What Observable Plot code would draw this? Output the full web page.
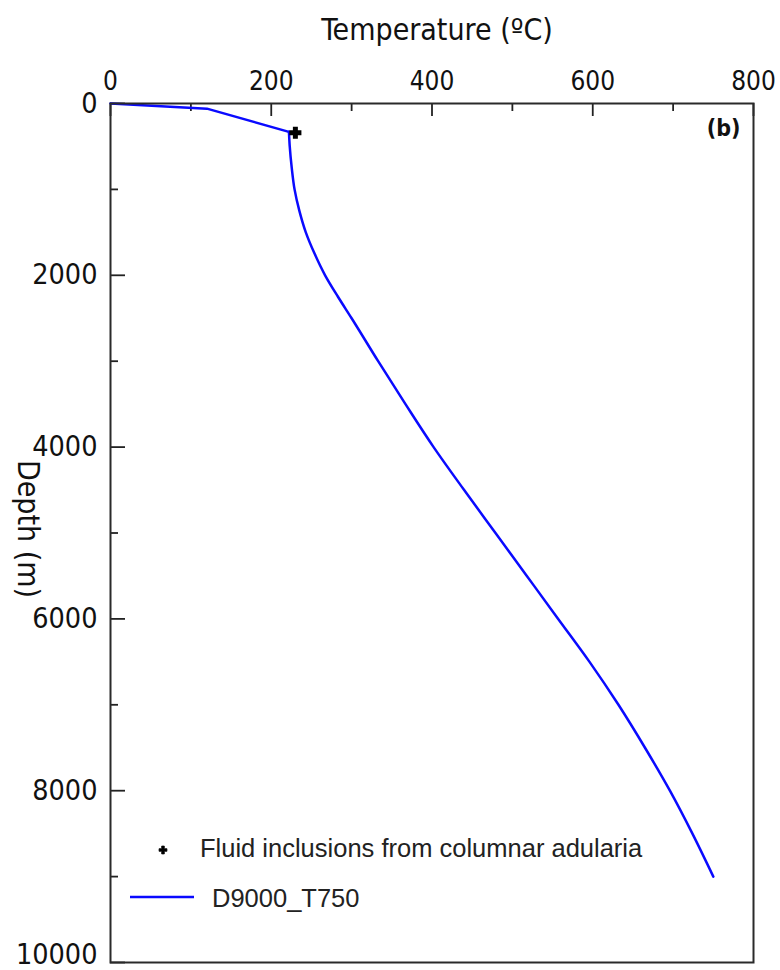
<!DOCTYPE html>
<html>
<head>
<meta charset="utf-8">
<script src="https://cdn.jsdelivr.net/npm/d3@7"></script>
<script src="https://cdn.jsdelivr.net/npm/@observablehq/plot@0.6"></script>
<style>
  html, body { margin: 0; padding: 0; background: #fff; }
  #chart svg { display: block; }
</style>
</head>
<body>
<div id="chart"></div>
<script>
// Modelled geotherm D9000_T750: temperature (°C) against depth (m)
const depth       = [0, 60, 330, 500, 750, 1000, 1250, 1500, 1750, 2000, 2250, 2500, 3000, 3500, 4000, 4500, 5000, 5500, 6000, 6500, 7000, 7500, 8000, 8500, 9000];
const temperature = [0, 120, 222, 223, 225.5, 229, 235, 243, 254, 267, 283, 300, 333, 367, 402, 440, 479, 518, 557, 596, 632, 665, 696, 724, 750];

// Fluid inclusion measurement (columnar adularia)
const inclusionDepth = [340];
const inclusionTemp  = [230];

// Axis ticks
const tempMajor  = [0, 200, 400, 600, 800];
const tempMinor  = [100, 300, 500, 700];
const depthMajor = [0, 2000, 4000, 6000, 8000, 10000];
const depthMinor = [1000, 3000, 5000, 7000, 9000];

const seriesName    = "D9000_T750";
const inclusionName = "Fluid inclusions from columnar adularia";

const W = 780, H = 970;
const mTop = 103, mBottom = 8, mLeft = 110, mRight = 27;
const frameH = H - mTop - mBottom;
const frameW = W - mLeft - mRight;

const profile = depth.map((d, i) => ({depth: d, temp: temperature[i]}));
// the near-surface part is piecewise linear, the deeper part a smooth conductive profile
const shallow = profile.slice(0, 3);
const deep = profile.slice(2);
const inclusions = inclusionDepth.map((d, i) => ({depth: d, temp: inclusionTemp[i]}));

const axisFont = "'DejaVu Sans Condensed', 'DejaVu Sans', sans-serif";
const ink = "#111";
const blue = "#0a0aff";

const chart = Plot.plot({
  width: W,
  height: H,
  marginTop: mTop,
  marginBottom: mBottom,
  marginLeft: mLeft,
  marginRight: mRight,
  style: {fontFamily: axisFont, fontSize: "26px", color: ink, background: "#fff", fontStretch: "condensed"},
  x: {domain: [0, 800]},
  y: {domain: [0, 10000], reverse: true},
  marks: [
    // tick labels
    Plot.axisX(tempMajor, {anchor: "top", tickSize: 0, tickPadding: 14, label: null, fontSize: 26, tickFormat: d => String(d)}),
    Plot.axisY(depthMajor.filter(d => d < 10000), {anchor: "left", tickSize: 0, tickPadding: 13, label: null, fontSize: 28.5, tickFormat: d => String(d)}),
    Plot.axisY(depthMajor.filter(d => d >= 10000), {anchor: "left", tickSize: 0, tickPadding: 13, label: null, fontSize: 28.5, dy: -8, tickFormat: d => String(d)}),
    // inward ticks
    Plot.ruleX(tempMajor, {x: d => d, stroke: "#222", strokeWidth: 1.8, insetBottom: frameH - 13}),
    Plot.ruleX(tempMinor, {x: d => d, stroke: "#222", strokeWidth: 1.8, insetBottom: frameH - 8}),
    Plot.ruleY(depthMajor, {y: d => d, stroke: "#222", strokeWidth: 1.8, insetRight: frameW - 15}),
    Plot.ruleY(depthMinor, {y: d => d, stroke: "#222", strokeWidth: 1.8, insetRight: frameW - 8}),
    // axis titles
    Plot.text(["Temperature (ºC)"], {frameAnchor: "top", textAnchor: "middle", lineAnchor: "middle", dx: 5, dy: -73, fontSize: 30, fill: ink}),
    Plot.text(["Depth (m)"], {frameAnchor: "left", textAnchor: "middle", lineAnchor: "middle", dx: -83, dy: -4, rotate: 90, fontSize: 30, fill: ink}),
    // panel tag
    Plot.text(["(b)"], {frameAnchor: "top-right", dx: -13, dy: 16, textAnchor: "end", lineAnchor: "top",
      fontSize: 23, fontWeight: "bold", fontFamily: "'DejaVu Sans', sans-serif", fill: ink}),
    // geotherm
    Plot.line(shallow, {x: "temp", y: "depth", stroke: blue, strokeWidth: 2.5}),
    Plot.line(deep, {x: "temp", y: "depth", stroke: blue, strokeWidth: 2.5, curve: "monotone-y"}),
    // fluid inclusion point
    Plot.dot(inclusions, {x: "temp", y: "depth", symbol: "cross", r: 4.5, fill: "#000", stroke: "#000", strokeWidth: 1.4}),
    Plot.frame({stroke: "#2a2a2a", strokeWidth: 2})
  ]
});

// legend in the lower-left of the frame
const svg = d3.select(chart);
const legendFont = "'Liberation Sans', Arial, sans-serif";
const lg = svg.append("g")
  .attr("font-family", legendFont)
  .attr("font-size", 25.5)
  .attr("font-stretch", "normal")
  .attr("text-anchor", "start")
  .attr("fill", "#222");
lg.append("path")
  .attr("d", d3.symbol(d3.symbolCross, 34)())
  .attr("transform", "translate(163,850)")
  .attr("fill", "#000")
  .attr("stroke", "#000")
  .attr("stroke-width", 0.8);
lg.append("text").attr("x", 200).attr("y", 857).text(inclusionName);
lg.append("line")
  .attr("x1", 130).attr("x2", 194).attr("y1", 897).attr("y2", 897)
  .attr("stroke", blue).attr("stroke-width", 2.5);
lg.append("text").attr("x", 212).attr("y", 907).text(seriesName);

document.getElementById("chart").appendChild(chart);
</script>
</body>
</html>
